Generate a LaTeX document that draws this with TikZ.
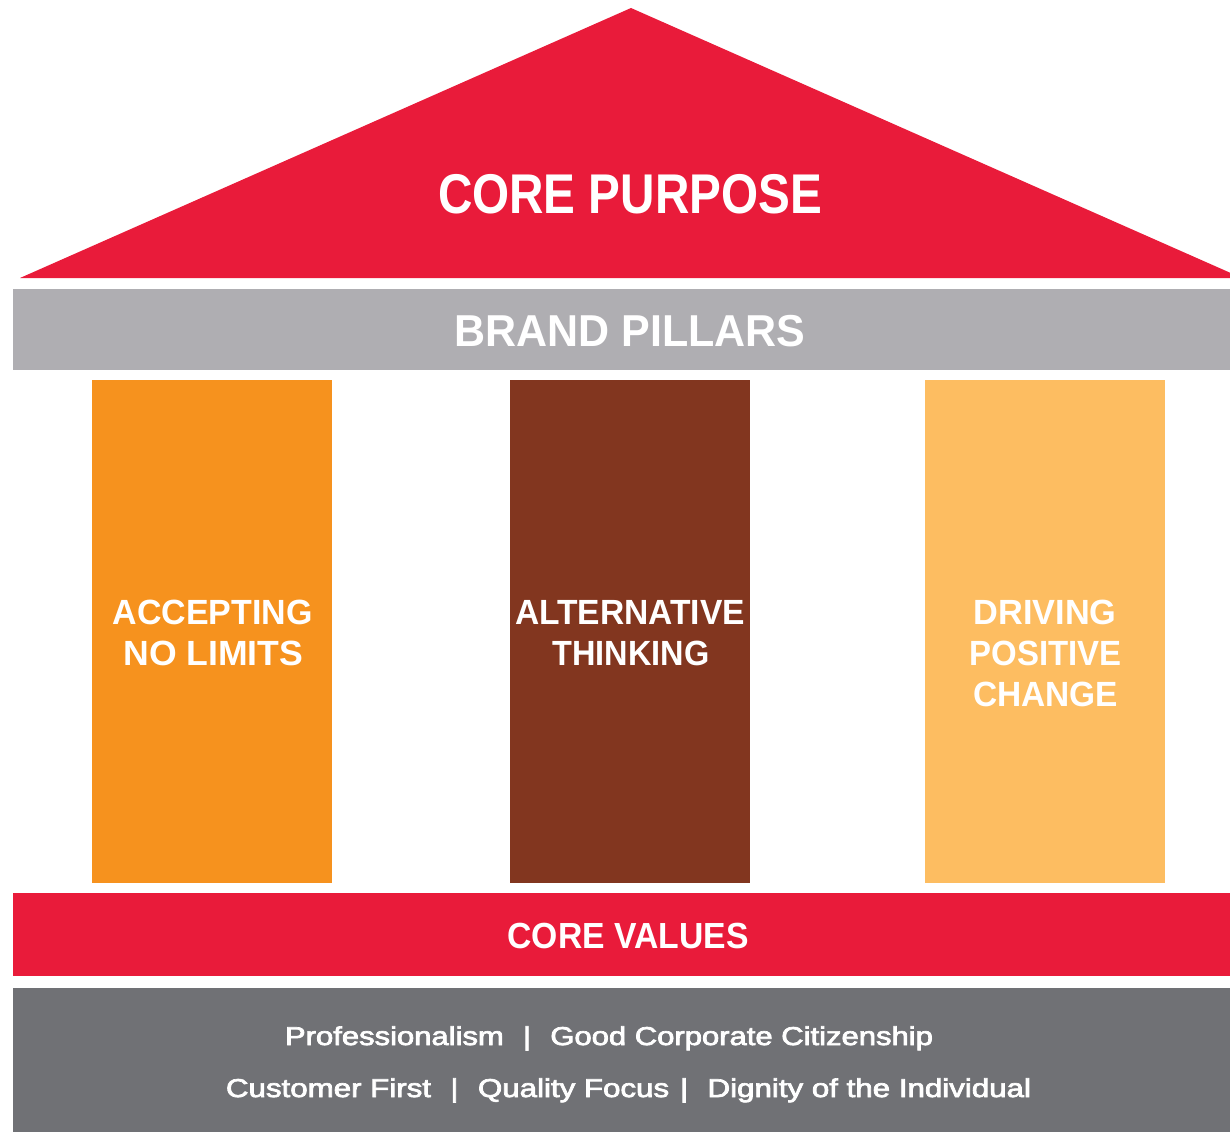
\documentclass[tikz,border=0pt]{standalone}
\usepackage{fontspec}
\setmainfont{Liberation Sans}
\newfontfamily\medfont[FakeBold=2.6]{Liberation Sans}
\usepackage{graphicx}
\definecolor{roofred}{HTML}{E91B3A}
\definecolor{bandgrey}{HTML}{AFAEB2}
\definecolor{pilorange}{HTML}{F6921E}
\definecolor{pilbrown}{HTML}{82361F}
\definecolor{pillight}{HTML}{FDBD61}
\definecolor{basegrey}{HTML}{707175}
\newcommand{\fitw}[2]{\resizebox{#1pt}{\height}{#2}}
\begin{document}
\begin{tikzpicture}[x=1pt,y=-1pt,
  block/.style={rectangle, inner sep=0pt, outer sep=0pt, draw=none, anchor=north west},
  band/.style={block, minimum width=1217pt},
  pillar/.style={block, minimum width=240pt, minimum height=502.5pt},
  lbl/.style={text=white, inner sep=0pt, anchor=base},
  pillbl/.style={lbl, font=\bfseries\fontsize{35}{38}\selectfont},
  vallbl/.style={lbl, font=\medfont\fontsize{25.8}{30}\selectfont}]
\useasboundingbox (0,0) rectangle (1230,1132);
% roof
\coordinate (roofL) at (20,278);
\coordinate (apex) at (631,8);
\coordinate (roofR) at (1230,272.7);
\coordinate (roofRB) at (1230,278);
\fill[roofred] (roofL) -- (apex) -- (roofR) -- (roofRB) -- cycle;
% bands
\node[band, fill=bandgrey, minimum height=80.5pt] (pillarsband) at (13,289) {};
\node[band, fill=roofred, minimum height=82.5pt] (valuesband) at (13,893) {};
\node[band, fill=basegrey, minimum height=144pt] (baseband) at (13,988) {};
% pillars
\node[pillar, fill=pilorange] (p1) at (92,380) {};
\node[pillar, fill=pilbrown] (p2) at (510,380) {};
\node[pillar, fill=pillight] (p3) at (925,380) {};
% labels
\node[lbl, font=\bfseries\fontsize{56}{60}\selectfont] (purpose) at (630,213) {\fitw{384}{CORE PURPOSE}};
\node[lbl, font=\bfseries\fontsize{44.7}{48}\selectfont] (brand) at (630,346) {\fitw{351}{BRAND PILLARS}};
\node[pillbl] (p1a) at (212.7,624) {\fitw{200}{ACCEPTING}};
\node[pillbl] (p1b) at (213.3,665) {\fitw{180}{NO LIMITS}};
\node[pillbl] (p2a) at (630,624) {\fitw{230}{ALTERNATIVE}};
\node[pillbl] (p2b) at (631,665) {\fitw{157}{THINKING}};
\node[pillbl] (p3a) at (1045,624) {\fitw{143}{DRIVING}};
\node[pillbl] (p3b) at (1045.5,665) {\fitw{152}{POSITIVE}};
\node[pillbl] (p3c) at (1045.5,706) {\fitw{145}{CHANGE}};
\node[lbl, font=\bfseries\fontsize{36.3}{40}\selectfont] (values) at (628,948) {\fitw{241}{CORE VALUES}};
\node[vallbl] (vals1) at (609,1045)
  {\fitw{648}{Professionalism\hspace{16pt}|\hspace{16pt}Good Corporate Citizenship}};
\node[vallbl] (vals2) at (628.5,1097)
  {\fitw{805}{Customer First\hspace{16pt}|\hspace{16pt}Quality Focus\hspace{9pt}|\hspace{16pt}Dignity of the Individual}};
\end{tikzpicture}
\end{document}
